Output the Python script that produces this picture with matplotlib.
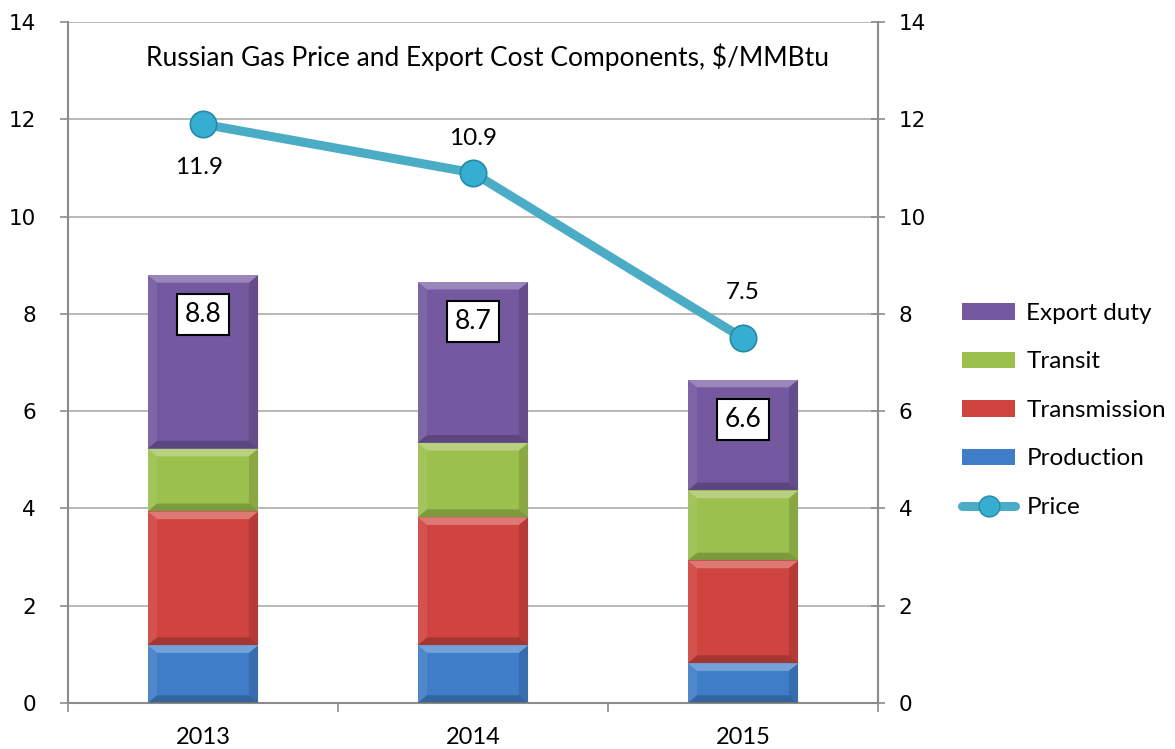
import numpy as np
import matplotlib
matplotlib.use("Agg")
import matplotlib.pyplot as plt
from matplotlib.patches import Polygon, Patch
from matplotlib.lines import Line2D

years = ["2013", "2014", "2015"]
production = [1.19, 1.19, 0.82]
transmission = [2.75, 2.63, 2.11]
transit = [1.29, 1.53, 1.44]
export_duty = [3.57, 3.31, 2.28]
price = [11.9, 10.9, 7.5]
total_labels = ["8.8", "8.7", "6.6"]
price_labels = ["11.9", "10.9", "7.5"]

series = [
    ("Production", production, "#3F7DC8"),
    ("Transmission", transmission, "#D0443F"),
    ("Transit", transit, "#9CC04E"),
    ("Export duty", export_duty, "#7458A0"),
]

plt.rcParams["font.family"] = ["Lato", "DejaVu Sans"]

fig = plt.figure(figsize=(11.75, 7.49), dpi=100)
ax = fig.add_axes([68 / 1175, 1 - 703 / 749, 810 / 1175, 681 / 749])

x = np.arange(len(years))
width = 0.41


def bevel(rect, dx=0.035, dy=0.16):
    """Fake Excel bevel: light top edge, dark bottom edge."""
    x0, y0, w, h = rect.get_x(), rect.get_y(), rect.get_width(), rect.get_height()
    dy = min(dy, h / 3)
    x1, y1 = x0 + w, y0 + h
    faces = [
        ([(x0, y1), (x1, y1), (x1 - dx, y1 - dy), (x0 + dx, y1 - dy)], "white", 0.28),
        ([(x0, y0), (x1, y0), (x1 - dx, y0 + dy), (x0 + dx, y0 + dy)], "black", 0.20),
        ([(x0, y0), (x0 + dx, y0 + dy), (x0 + dx, y1 - dy), (x0, y1)], "white", 0.08),
        ([(x1, y0), (x1 - dx, y0 + dy), (x1 - dx, y1 - dy), (x1, y1)], "black", 0.12),
    ]
    for pts, c, a in faces:
        ax.add_patch(Polygon(pts, closed=True, facecolor=c, alpha=a,
                             edgecolor="none", zorder=3))


bottom = np.zeros(len(years))
for name, vals, color in series:
    bars = ax.bar(x, vals, width, bottom=bottom, color=color,
                  edgecolor="none", zorder=2, label=name)
    for r in bars:
        bevel(r)
    bottom += np.array(vals)

totals = bottom
for xi, t, lab in zip(x, totals, total_labels):
    ax.text(xi, t - 0.82, lab, ha="center", va="center", fontsize=19,
            zorder=6,
            bbox=dict(boxstyle="square,pad=0.3", facecolor="white",
                      edgecolor="black", linewidth=1.5))

ax.plot(x, price, color="#4BACC6", linewidth=6.5, zorder=4,
        solid_capstyle="round")
ax.plot(x, price, linestyle="none", marker="o", markersize=19,
        markerfacecolor="#35AED2", markeredgecolor="#2589A8",
        markeredgewidth=1.2, zorder=5)

offsets = [-31, 25, 33]
for xi, p, lab, off in zip(x, price, price_labels, offsets):
    ax.annotate(lab, (xi, p), xytext=(-3 if off < 0 else 0, off),
                textcoords="offset points", ha="center", va="center",
                fontsize=17.5, zorder=6)

ax.set_xlim(-0.5, 2.5)
ax.set_ylim(0, 14)
ax.set_yticks(np.arange(0, 15, 2))
ax.yaxis.grid(True, color="#A6A6A6", linewidth=1.1, zorder=0)
ax.set_axisbelow(True)

ax.set_xticks(x)
ax.set_xticklabels(years, fontsize=17)
ax.set_xticks(np.arange(-0.5, 3, 1), minor=True)
ax.tick_params(axis="x", which="major", length=0, pad=17)
ax.tick_params(axis="x", which="minor", length=6.5, width=1.2, color="#8C8C8C")
ax.tick_params(axis="y", length=6, width=1.2, color="#8C8C8C", pad=17)
for lab in ax.get_yticklabels():
    lab.set_fontfamily("DejaVu Sans")
    lab.set_fontsize(15.5)

ax.spines["top"].set_visible(False)
for s in ["left", "bottom", "right"]:
    ax.spines[s].set_color("#8C8C8C")
    ax.spines[s].set_linewidth(1.5)

ax2 = ax.twinx()
ax2.set_ylim(0, 14)
ax2.set_yticks(np.arange(0, 15, 2))
ax2.tick_params(axis="y", direction="inout", length=10, width=1.2,
                color="#8C8C8C", pad=10)
for lab in ax2.get_yticklabels():
    lab.set_fontfamily("DejaVu Sans")
    lab.set_fontsize(15.5)
for s in ["top", "left", "bottom"]:
    ax2.spines[s].set_visible(False)
ax2.spines["right"].set_color("#8C8C8C")
ax2.spines["right"].set_linewidth(1.5)

fig.text(488 / 1175, 1 - 57 / 749,
         "Russian Gas Price and Export Cost Components, $/MMBtu",
         ha="center", va="center", fontsize=19)

handles = [Patch(facecolor=c, edgecolor="none") for _, _, c in series[::-1]]
labels = [n for n, _, _ in series[::-1]]
handles.append(Line2D([], [], color="#4BACC6", linewidth=6.5,
                      solid_capstyle="round", marker="o", markersize=15,
                      markerfacecolor="#35AED2", markeredgecolor="#2589A8"))
labels.append("Price")
fig.legend(handles, labels, loc="upper left",
           bbox_to_anchor=(962 / 1175, 1 - 303 / 749), frameon=False,
           fontsize=17.5, handlelength=2.2, handleheight=0.66,
           handletextpad=0.45, labelspacing=1.13, borderpad=0,
           borderaxespad=0)

fig.savefig("out.png", dpi=100)
